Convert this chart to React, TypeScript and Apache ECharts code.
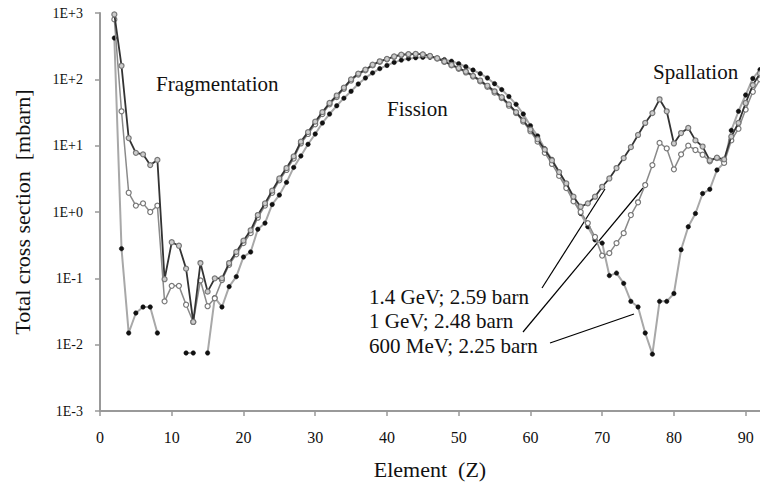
import React, { useEffect, useRef } from "react";
import * as echarts from "echarts";

// Element number Z
const elementZ = [
  2, 3, 4, 5, 6, 7, 8, 9, 10, 11, 12, 13, 14, 15, 16, 17, 18, 19, 20, 21,
  22, 23, 24, 25, 26, 27, 28, 29, 30, 31, 32, 33, 34, 35, 36, 37, 38, 39, 40, 41,
  42, 43, 44, 45, 46, 47, 48, 49, 50, 51, 52, 53, 54, 55, 56, 57, 58, 59, 60, 61,
  62, 63, 64, 65, 66, 67, 68, 69, 70, 71, 72, 73, 74, 75, 76, 77, 78, 79, 80, 81,
  82, 83, 84, 85, 86, 87, 88, 89, 90, 91, 92,
];

// Total cross section [mbarn], 1.4 GeV
const xs14GeV = [
  950, 160, 13, 7.8, 7.4, 5.1, 6.1, 0.097, 0.35, 0.31, 0.14, 0.022, 0.17, 0.063, 0.1, 0.1, 0.17, 0.25, 0.37, 0.53,
  0.9, 1.35, 2.1, 3.2, 4.6, 6.9, 11.5, 16, 23, 32, 44, 57, 75, 100, 122, 140, 166, 187, 203, 221,
  235, 240, 242, 238, 226, 208, 186, 165, 148, 131, 113, 96, 80, 66, 54, 42, 32, 24, 17.5, 12.5,
  8.7, 6, 4, 2.7, 1.7, 1.2, 1.35, 1.7, 2.4, 3.2, 4.6, 6.5, 9.5, 14.5, 22, 31, 50, 33, 10.8, 15.5,
  18.5, 12, 9.7, 6, 6.6, 6.2, 13.7, 22, 44, 82, 123,
];

// 1 GeV
const xs1GeV = [
  800, 33, 1.95, 1.25, 1.35, 1.0, 1.25, 0.045, 0.077, 0.077, 0.04, 0.022, 0.093, 0.038, 0.05, 0.094, 0.16, 0.23, 0.34, 0.48,
  0.82, 1.25, 1.95, 3.0, 4.3, 6.4, 10.8, 15, 21, 30, 42, 54, 72, 96, 118, 137, 162, 183, 200, 218,
  232, 237, 240, 236, 223, 205, 183, 162, 144, 127, 110, 93, 77, 63, 52, 40, 31, 23, 16.5, 11.5,
  7.8, 5.3, 3.5, 2.3, 1.45, 1.0, 0.68, 0.42, 0.22, 0.24, 0.34, 0.48, 0.9, 1.4, 2.55, 5.1, 11, 9.1, 4.4, 7.4,
  10, 8.6, 7.3, 5.8, 6.5, 5.5, 12, 18, 35, 65, 100,
];

// 600 MeV (null = no value)
const xs600MeV = [
  420, 0.28, 0.015, 0.03, 0.037, 0.037, 0.015, null, null, null, 0.0075, 0.0075, null, 0.0075, 0.051, 0.037, 0.075, 0.106, 0.21, 0.25,
  0.55, 0.68, 1.3, 1.8, 2.8, 4.7, 7.0, 10.5, 15, 22, 30, 40, 52, 66, 85, 105, 125, 145, 162, 180,
  195, 205, 212, 215, 215, 208, 198, 187, 172, 155, 138, 122, 105, 86, 70, 55, 42, 30, 20, 14,
  9, 6.2, 4, 2.5, 1.6, 0.95, 0.6, 0.38, 0.34, 0.11, 0.12, 0.084, 0.045, 0.037, 0.015, 0.0072, 0.045, 0.045, 0.059, 0.27,
  0.6, 0.95, 1.9, 2.2, 4.3, 5.5, 17, 33, 58, 103, 140,
];

const seriesNames = ["1.4 GeV; 2.59 barn", "1 GeV; 2.48 barn", "600 MeV; 2.25 barn"];
const regionLabels = ["Fragmentation", "Fission", "Spallation"];
const yTickLabels = ["1E-3", "1E-2", "1E-1", "1E+0", "1E+1", "1E+2", "1E+3"];
const xTickLabels = ["0", "10", "20", "30", "40", "50", "60", "70", "80", "90"];

const FONT = "'Liberation Serif', 'Times New Roman', serif";

function toPairs(vals: (number | null)[]) {
  return elementZ.map((z, i) => [z, vals[i] == null ? "-" : vals[i]]);
}

export default function App() {
  const ref = useRef<HTMLDivElement>(null);
  useEffect(() => {
    if (!ref.current) return;
    const chart = echarts.init(ref.current, null, { renderer: "svg" });
    const text = (s: string, x: number, y: number, size = 21) => ({
      type: "text",
      left: x,
      top: y,
      style: { text: s, font: `${size}px ${FONT}`, fill: "#111" },
    });
    const leader = (x1: number, y1: number, x2: number, y2: number) => ({
      type: "line",
      shape: { x1, y1, x2, y2 },
      style: { stroke: "#000", lineWidth: 1.2 },
    });
    chart.setOption({
      animation: false,
      backgroundColor: "#fff",
      grid: { left: 100, right: 0, top: 13, bottom: 78, containLabel: false },
      xAxis: {
        type: "value",
        min: 0,
        max: 92,
        interval: 10,
        name: "Element  (Z)",
        nameLocation: "middle",
        nameGap: 47,
        nameTextStyle: { fontFamily: FONT, fontSize: 22, color: "#111" },
        axisLine: { lineStyle: { color: "#999", width: 2 } },
        axisTick: { show: true, length: 5, lineStyle: { color: "#999", width: 1.5 } },
        axisLabel: {
          fontFamily: FONT,
          fontSize: 16,
          color: "#111",
          margin: 18,
          showMaxLabel: false,
          formatter: (v: number) => (v % 10 === 0 ? xTickLabels[v / 10] ?? "" : ""),
        },
        splitLine: { show: false },
      },
      yAxis: {
        type: "log",
        logBase: 10,
        min: 0.001,
        max: 1000,
        name: "Total cross section  [mbarn]",
        nameLocation: "middle",
        nameGap: 67,
        nameTextStyle: { fontFamily: FONT, fontSize: 22, color: "#111" },
        axisLine: { show: true, lineStyle: { color: "#999", width: 2 } },
        axisTick: { show: true, length: 5, lineStyle: { color: "#999", width: 1.5 } },
        axisLabel: {
          fontFamily: FONT,
          fontSize: 14,
          color: "#111",
          margin: 17,
          formatter: (v: number) => yTickLabels[Math.round(Math.log10(v)) + 3] ?? "",
        },
        splitLine: { show: false },
      },
      series: [
        {
          name: seriesNames[2],
          type: "line",
          data: toPairs(xs600MeV),
          connectNulls: false,
          symbol: "circle",
          symbolSize: 4.5,
          lineStyle: { color: "#a8a8a8", width: 2 },
          itemStyle: { color: "#111", borderColor: "#111", borderWidth: 0.5 },
          z: 2,
        },
        {
          name: seriesNames[1],
          type: "line",
          data: toPairs(xs1GeV),
          symbol: "circle",
          symbolSize: 5,
          lineStyle: { color: "#8a8a8a", width: 1.5 },
          itemStyle: { color: "#fff", borderColor: "#777", borderWidth: 1.2 },
          z: 3,
        },
        {
          name: seriesNames[0],
          type: "line",
          data: toPairs(xs14GeV),
          symbol: "circle",
          symbolSize: 5,
          lineStyle: { color: "#333", width: 1.8 },
          itemStyle: { color: "#ccc", borderColor: "#777", borderWidth: 1.2 },
          z: 4,
        },
      ],
      graphic: [
        text(regionLabels[0], 156, 73),
        text(regionLabels[1], 387, 98),
        text(regionLabels[2], 653, 61),
        text(seriesNames[0], 369, 286),
        text(seriesNames[1], 369, 310),
        text(seriesNames[2], 369, 335),
        leader(542, 288, 605, 189),
        leader(523, 332, 643, 188),
        leader(550, 343, 634, 314),
      ],
    });
    return () => chart.dispose();
  }, []);
  return (
    <div
      ref={ref}
      style={{ position: "fixed", left: 0, top: 0, width: 760, height: 489, background: "#fff" }}
    />
  );
}
